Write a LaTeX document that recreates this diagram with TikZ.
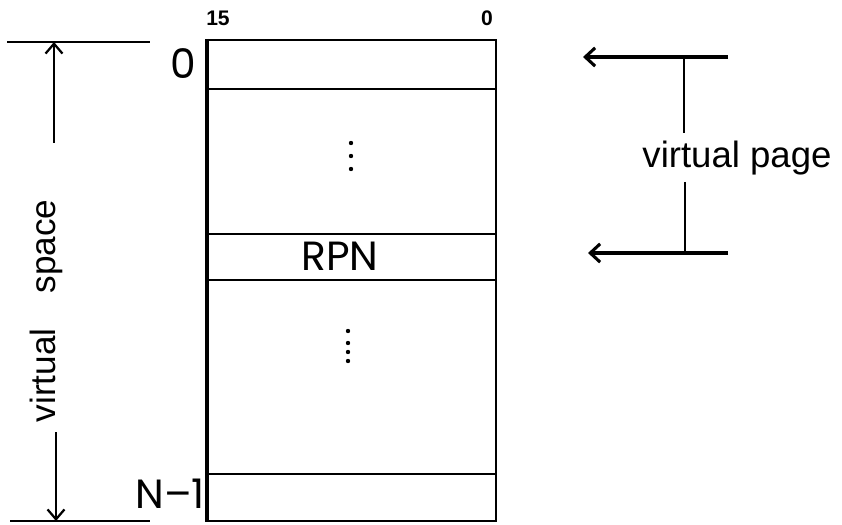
\documentclass[tikz,border=0pt]{standalone}
\usepackage{fontspec}
\setmainfont{Liberation Sans}
\newfontfamily\geofont[Ligatures=TeX]{Poppins}
\usetikzlibrary{arrows.meta}
\tikzset{>=Stealth}
\tikzset{
    frame/.style={line width=1.5pt},
    rowline/.style={line width=1.1pt},
    bitlabel/.style={font=\bfseries\fontsize{15}{17}\selectfont, inner sep=0pt},
    addr/.style={font=\geofont\fontsize{29}{31}\selectfont, inner sep=0pt},
    vlabel/.style={font=\fontsize{26}{28}\selectfont, inner sep=0pt},
    limit/.style={line width=2pt},
    dim/.style={line width=0.8pt, -{Straight Barb[length=7pt,width=12pt,line width=1.6pt]}},
    ptr/.style={line width=2.2pt, -{Straight Barb[length=7pt,width=13pt]}}
}

\begin{document}
\begin{tikzpicture}[x=0.025cm,y=-0.025cm]
    \useasboundingbox (0,0) rectangle (842,525);

    \draw[frame] (207,40) rectangle (496,521);
    \draw[line width=2.6pt] (207,39) -- (207,522);
    \foreach \y in {89,234,280,474}
        \draw[rowline] (207,\y) -- (496,\y);

    \node[bitlabel] (msb) at (218,18) {15};
    \node[bitlabel] (lsb) at (487,18) {0};
    \node[addr] (first) at (183,64) {0};
    \node[addr] (last) at (170,494) {N–1};
    \node[addr] (rpn) at (340,256) {RPN};

    \foreach \y in {143,156,169}
        \fill (351,\y) circle (2.2);
    \foreach \y in {331,343,352,361}
        \fill (348,\y) circle (2.2);

    \coordinate (vtop) at (54,42);
    \coordinate (vbot) at (56,521);
    \coordinate (vup) at (54,143);
    \coordinate (vdown) at (56,432);
    \draw[limit] (7,42) -- (150,42);
    \draw[limit] (10,521) -- (150,521);
    \node[vlabel, font=\fontsize{25}{27}\selectfont, rotate=90] (vspace) at (46,311) {virtual\hspace{1em}space};
    \draw[dim] (vup) -- (vtop);
    \draw[dim] (vdown) -- (vbot);

    \coordinate (ptop) at (583,57);
    \coordinate (pbot) at (588,253);
    \node[vlabel] (vpage) at (737,158) {virtual page};
    \draw[ptr] (728,57) -- (ptop);
    \draw[ptr] (728,253) -- (pbot);
    \draw[line width=0.8pt] (684,57) -- (684,133);
    \draw[line width=0.8pt] (685,182) -- (685,253);
\end{tikzpicture}
\end{document}
